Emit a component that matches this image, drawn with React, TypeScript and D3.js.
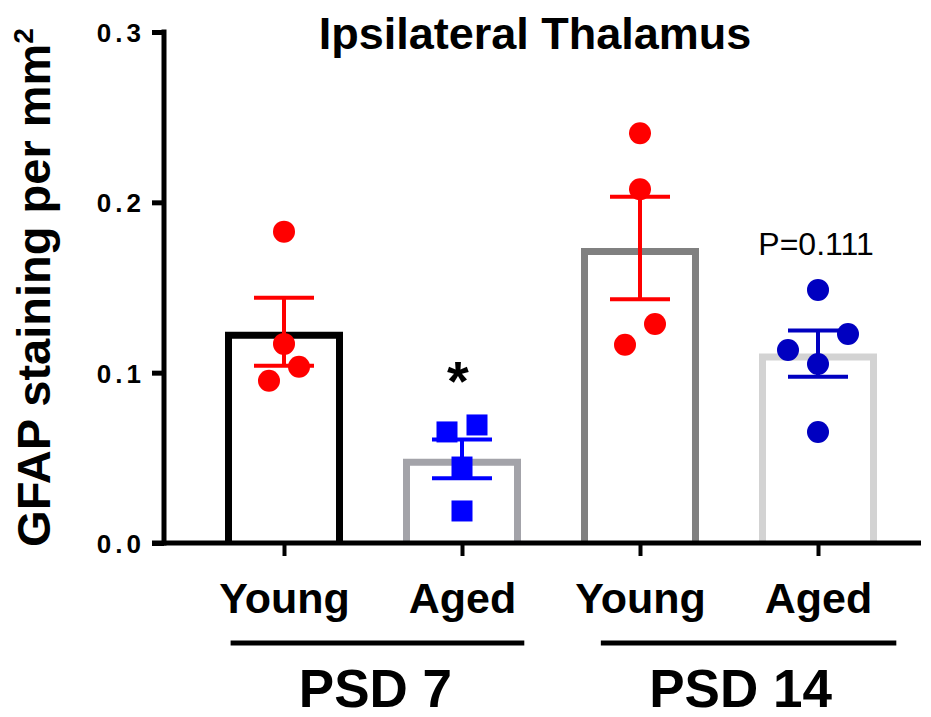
import React, { useEffect, useRef } from "react";
import * as d3 from "d3";

// chart values
const groups = ["PSD 7", "PSD 14"];
const barKeys = ["psd7-young", "psd7-aged", "psd14-young", "psd14-aged"];
const barLabels = ["Young", "Aged", "Young", "Aged"];
const barGroup = [0, 0, 1, 1];
const means = [0.124, 0.0494, 0.1732, 0.1112];
const sems = [0.02, 0.0114, 0.0301, 0.0136];
const points = [
  [0.1828, 0.1169, 0.1035, 0.0953],
  [0.0652, 0.0693, 0.0446, 0.0188],
  [0.2406, 0.2077, 0.1286, 0.1164],
  [0.1486, 0.1227, 0.1133, 0.1051, 0.0652],
];
// horizontal scatter slot of each point (in units of jitter step)
const jitter = [
  [0, 0, 1, -1],
  [-1, 1, 0, 0],
  [0, 0, 1, -1],
  [0, 2, -2, 0, 0],
];
const yTicks = [0, 0.1, 0.2, 0.3];
const title = "Ipsilateral Thalamus";
const yLabel = "GFAP staining per mm";
const annotations = [
  { bar: 1, text: "*" },
  { bar: 3, text: "P=0.111" },
];

// styling
const barStroke = ["#000000", "#A3A3A9", "#808080", "#D3D3D3"];
const pointColor = ["#FF0000", "#0000FF", "#FF0000", "#0000C0"];
const pointShape = ["circle", "square", "circle", "circle"];
const groupPad = [
  [0.3, 0.35],
  [0.22, 0.44],
];
const FONT = "Arial, 'Liberation Sans', Helvetica, sans-serif";

const Chart = () => {
  const svgRef = useRef<SVGSVGElement>(null);

  useEffect(() => {
    const plot = { left: 164, right: 921, top: 32, bottom: 543 };
    const barW = 118;
    const barSW = 7;
    const capW = 60;
    const jitterStep = 15;

    const svg = d3.select(svgRef.current);
    svg.selectAll("*").remove();

    const x = d3.scalePoint<string>().domain(barKeys).range([284, 818]);
    const y = d3.scaleLinear().domain([0, 0.3]).range([plot.bottom, plot.top]);
    const step = x.step();

    // bars: open at the bottom, border drawn inside the bar outline
    const bars = svg.append("g");
    barKeys.forEach((k, i) => {
      const cx = x(k)!;
      const l = cx - barW / 2 + barSW / 2;
      const r = cx + barW / 2 - barSW / 2;
      const t = y(means[i]) + barSW / 2;
      bars
        .append("path")
        .attr("d", `M${l},${plot.bottom}V${t}H${r}V${plot.bottom}`)
        .attr("fill", "none")
        .attr("stroke", barStroke[i])
        .attr("stroke-width", barSW)
        .attr("stroke-linejoin", "miter")
        .attr("stroke-linecap", "butt");
    });

    // error bars (mean ± SEM)
    const err = svg.append("g");
    barKeys.forEach((k, i) => {
      const cx = x(k)!;
      const hi = y(means[i] + sems[i]);
      const lo = y(means[i] - sems[i]);
      const g = err.append("g").attr("stroke", pointColor[i]).attr("stroke-width", 4);
      g.append("line").attr("x1", cx).attr("x2", cx).attr("y1", hi).attr("y2", lo);
      g.append("line").attr("x1", cx - capW / 2).attr("x2", cx + capW / 2).attr("y1", hi).attr("y2", hi);
      g.append("line").attr("x1", cx - capW / 2).attr("x2", cx + capW / 2).attr("y1", lo).attr("y2", lo);
    });

    // individual points
    const pts = svg.append("g");
    barKeys.forEach((k, i) => {
      const cx = x(k)!;
      points[i].forEach((v, j) => {
        const px = cx + jitter[i][j] * jitterStep;
        const py = y(v);
        if (pointShape[i] === "square") {
          pts
            .append("rect")
            .attr("x", px - 10.5)
            .attr("y", py - 10.5)
            .attr("width", 21)
            .attr("height", 21)
            .attr("fill", pointColor[i]);
        } else {
          pts.append("circle").attr("cx", px).attr("cy", py).attr("r", 11).attr("fill", pointColor[i]);
        }
      });
    });

    // y axis
    svg
      .append("g")
      .attr("transform", `translate(${plot.left},0)`)
      .call(
        d3
          .axisLeft(y)
          .tickValues(yTicks)
          .tickFormat(d3.format(".1f"))
          .tickSize(12)
          .tickSizeOuter(0)
          .tickPadding(0)
      )
      .call((g) => g.select(".domain").attr("stroke-width", 5).attr("d", `M0,${plot.bottom + 2.5}V${plot.top - 2.5}`))
      .call((g) => g.selectAll(".tick line").attr("stroke-width", 5))
      .call((g) =>
        g
          .selectAll(".tick text")
          .attr("x", -19)
          .attr("dy", "0.36em")
          .attr("font-size", 26)
          .attr("font-weight", "bold")
          .attr("font-family", FONT)
          .attr("letter-spacing", 4)
          .attr("fill", "#000")
      );

    // x axis
    svg
      .append("g")
      .attr("transform", `translate(0,${plot.bottom})`)
      .call(d3.axisBottom(x).tickSize(13).tickSizeOuter(0).tickPadding(26).tickFormat((_, i) => barLabels[i]))
      .call((g) => g.select(".domain").attr("stroke-width", 5).attr("d", `M${plot.left - 12},0H${plot.right}`))
      .call((g) => g.selectAll(".tick line").attr("stroke-width", 4))
      .call((g) =>
        g
          .selectAll(".tick text")
          .attr("font-size", 43)
          .attr("font-weight", "bold")
          .attr("font-family", FONT)
          .attr("fill", "#000")
      );

    // group brackets
    groups.forEach((name, gi) => {
      const idx = barGroup.map((b, i) => (b === gi ? i : -1)).filter((i) => i >= 0);
      const x1 = x(barKeys[idx[0]])! - groupPad[gi][0] * step;
      const x2 = x(barKeys[idx[idx.length - 1]])! + groupPad[gi][1] * step;
      svg
        .append("line")
        .attr("x1", x1)
        .attr("x2", x2)
        .attr("y1", 643)
        .attr("y2", 643)
        .attr("stroke", "#000")
        .attr("stroke-width", 5);
      svg
        .append("text")
        .attr("x", (x1 + x2) / 2 - (gi === 1 ? 8 : 2))
        .attr("y", 707)
        .attr("text-anchor", "middle")
        .attr("font-size", 53)
        .attr("font-weight", "bold")
        .attr("font-family", FONT)
        .text(name);
    });

    // annotations
    annotations.forEach((a) => {
      const top = y(d3.max(points[a.bar])!);
      const star = a.text === "*";
      svg
        .append("text")
        .attr("x", x(barKeys[a.bar])! - (star ? 4 : 2))
        .attr("y", star ? top - 25 : top - 35)
        .attr("text-anchor", "middle")
        .attr("font-size", star ? 56 : 32)
        .attr("font-weight", star ? "bold" : "normal")
        .attr("font-family", FONT)
        .text(a.text);
    });

    // title
    svg
      .append("text")
      .attr("x", 535)
      .attr("y", 49)
      .attr("text-anchor", "middle")
      .attr("font-size", 45)
      .attr("font-weight", "bold")
      .attr("font-family", FONT)
      .text(title);

    // y label
    const yl = svg
      .append("text")
      .attr("transform", `translate(50,${(plot.top + plot.bottom) / 2}) rotate(-90)`)
      .attr("text-anchor", "middle")
      .attr("font-size", 47)
      .attr("font-weight", "bold")
      .attr("font-family", FONT)
      .text(yLabel);
    yl.append("tspan").attr("font-size", 28).attr("dy", -17).text("2");
  }, []);

  return (
    <svg
      ref={svgRef}
      width={931}
      height={717}
      viewBox="0 0 931 717"
      style={{ position: "absolute", left: 0, top: 0, background: "#fff" }}
    />
  );
};

export default function App() {
  return <Chart />;
}
